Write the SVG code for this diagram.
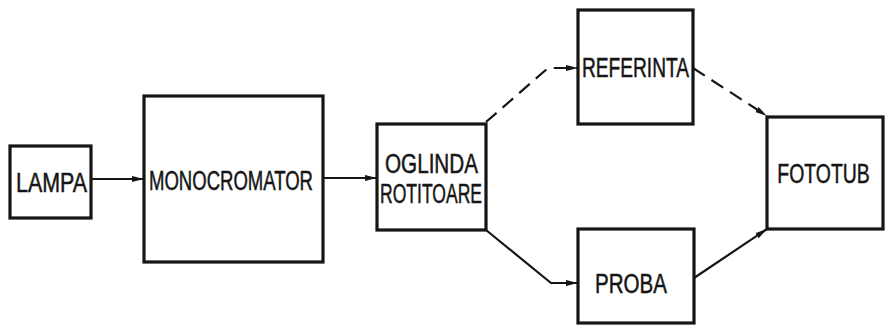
<svg xmlns="http://www.w3.org/2000/svg" width="885" height="331" viewBox="0 0 885 331">
<defs>
<style>
.box{fill:none;stroke:#151515;stroke-width:3.2}
.lbl{font-family:"Liberation Sans",Arial,sans-serif;font-size:27px;fill:#151515;stroke:#151515;stroke-width:0.5;text-anchor:middle}
.c{fill:none;stroke:#151515;stroke-width:2.2}
.d{stroke-dasharray:14 8}
</style>
<marker id="ah" viewBox="0 0 12 8" refX="12" refY="4" markerWidth="12" markerHeight="8" markerUnits="userSpaceOnUse" orient="auto">
<path d="M0,1 L12,4 L0,7 Z" fill="#151515"/>
</marker>
</defs>
<rect width="885" height="331" fill="#ffffff"/>
<g id="lampa"><rect class="box" x="10" y="146" width="81" height="72"/><text class="lbl" x="51.5" y="192" textLength="71" lengthAdjust="spacingAndGlyphs">LAMPA</text></g>
<g id="monocromator"><rect class="box" x="144" y="96" width="179" height="166"/><text class="lbl" x="231" y="190" textLength="164" lengthAdjust="spacingAndGlyphs">MONOCROMATOR</text></g>
<g id="oglinda"><rect class="box" x="377" y="124" width="109" height="106"/><text class="lbl" x="431.5" y="173" textLength="93" lengthAdjust="spacingAndGlyphs">OGLINDA</text><text class="lbl" x="431" y="203" textLength="102" lengthAdjust="spacingAndGlyphs">ROTITOARE</text></g>
<g id="referinta"><rect class="box" x="578" y="10" width="115" height="114"/><text class="lbl" x="635.5" y="77" textLength="107" lengthAdjust="spacingAndGlyphs">REFERINTA</text></g>
<g id="proba"><rect class="box" x="578" y="229" width="116" height="94"/><text class="lbl" x="631" y="293" textLength="72" lengthAdjust="spacingAndGlyphs">PROBA</text></g>
<g id="fototub"><rect class="box" x="767" y="117" width="116" height="112"/><text class="lbl" transform="translate(823.5,183) scale(0.72,1)">FOTOTUB</text></g>
<g id="connectors">
<path class="c" d="M91,179 L144,179" marker-end="url(#ah)"/>
<path class="c" d="M323,178 L377,178" marker-end="url(#ah)"/>
<path class="c d" d="M486,122 L548,68 L578,68" marker-end="url(#ah)"/>
<path class="c d" d="M693,68 L767,116" marker-end="url(#ah)"/>
<path class="c" d="M486,230 L551,283 L578,283" marker-end="url(#ah)"/>
<path class="c" d="M694,278 L767,229" marker-end="url(#ah)"/>
</g>
</svg>
